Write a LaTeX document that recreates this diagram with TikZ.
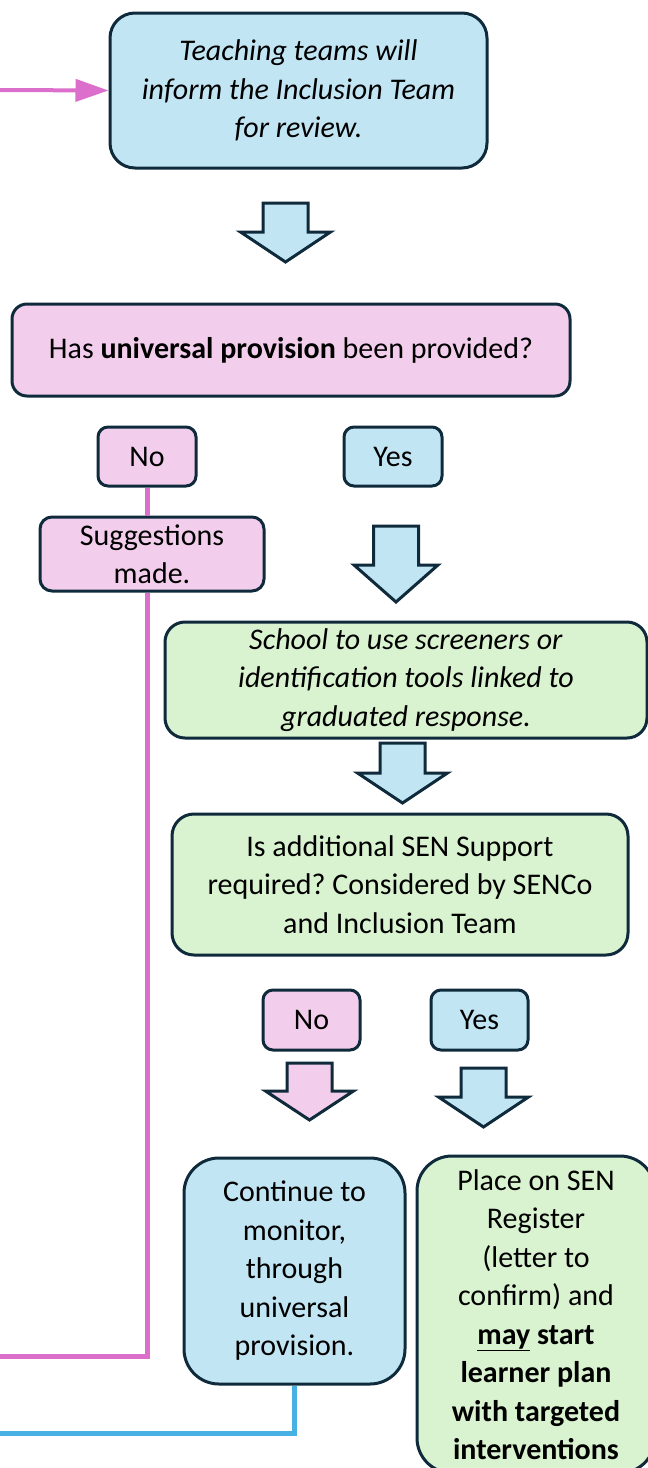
\documentclass[tikz,border=0pt]{standalone}
\usepackage{fontspec}
\setmainfont{Carlito}
\usetikzlibrary{arrows.meta}
\definecolor{navy}{HTML}{0E2A3B}
\definecolor{pinkfill}{HTML}{F2CEEC}
\definecolor{bluefill}{HTML}{C2E5F4}
\definecolor{greenfill}{HTML}{D9F2D0}
\definecolor{pinkline}{HTML}{DB6FCB}
\definecolor{blueline}{HTML}{47B1E3}
\tikzset{
  box/.style={draw=navy, line width=3pt, align=center, inner sep=0pt, text=black,
    font=\fontsize{30}{38.5}\selectfont},
  pinkconn/.style={draw=pinkline, line width=5pt},
  blueconn/.style={draw=blueline, line width=5pt},
  pics/barrow/.style n args={4}{code={
    \draw[fill=#1, draw=navy, line width=3pt, line join=miter]
      (-22.5,0) -- (22.5,0) -- (22.5,#2) -- (#4,#2) -- (0,#2+#3) -- (-#4,#2) -- (-22.5,#2) -- cycle;
  }}
}
\frenchspacing
\begin{document}
\begin{tikzpicture}[x=1pt,y=-1pt]
\clip (0,0) rectangle (648,1468);
\fill[white] (0,0) rectangle (648,1468);

\node[box, fill=bluefill, rounded corners=25pt, minimum width=377pt, minimum height=155pt] (top) at (298.5,90.5)
  {\textit{Teaching teams will}\\\textit{inform the Inclusion Team}\\\textit{for review.}};
\node[box, fill=pinkfill, rounded corners=15pt, minimum width=558pt, minimum height=92pt] (q) at (291,350)
  {Has \textbf{universal provision} been provided?};
\node[box, fill=pinkfill, rounded corners=10pt, minimum width=98pt, minimum height=59pt] (no1) at (147,456.5) {No};
\node[box, fill=bluefill, rounded corners=10pt, minimum width=98pt, minimum height=59pt] (yes1) at (393,456.5) {Yes};
\node[box, fill=pinkfill, rounded corners=12pt, minimum width=224pt, minimum height=74pt] (sug) at (152,554)
  {Suggestions\\made.};
\node[box, fill=greenfill, rounded corners=20pt, minimum width=482pt, minimum height=116pt] (school) at (406,680)
  {\textit{School to use screeners or}\\\textit{identification tools linked to}\\\textit{graduated response.}};
\node[box, fill=greenfill, rounded corners=22pt, minimum width=456pt, minimum height=141pt] (isadd) at (400,884.5)
  {Is additional SEN Support\\required? Considered by SENCo\\and Inclusion Team};
\node[box, fill=pinkfill, rounded corners=10pt, minimum width=97pt, minimum height=60pt] (no2) at (311.5,1020) {No};
\node[box, fill=bluefill, rounded corners=10pt, minimum width=97pt, minimum height=60pt] (yes2) at (479.5,1020) {Yes};
\node[box, fill=bluefill, rounded corners=35pt, minimum width=221pt, minimum height=226pt] (cont) at (294.5,1271)
  {Continue to\\monitor,\\through\\universal\\provision.};
\node[box, fill=greenfill, rounded corners=35pt, minimum width=238pt, minimum height=317pt] (place) at (536,1314.5)
  {Place on SEN\\Register\\(letter to\\confirm) and\\\textbf{\underline{may} start}\\\textbf{learner plan}\\\textbf{with targeted}\\\textbf{interventions}};

\pic at (285.5,203) {barrow={bluefill}{29}{30}{45}};
\pic at (396,526) {barrow={bluefill}{39}{37}{42}};
\pic at (402.5,743) {barrow={bluefill}{30}{30}{45}};
\pic at (309.5,1063) {barrow={pinkfill}{28}{29}{44}};
\pic at (483.5,1068) {barrow={bluefill}{29}{30}{45}};

\coordinate (pstart) at (0,90);
\coordinate (pend) at (0,1356);
\coordinate (bend) at (0,1433);
\draw[draw=pinkline, line width=4pt, -{Triangle[length=33pt,width=22pt]}] (pstart) -- (top.west);
\draw[pinkconn] (no1.south) -- (no1.south |- sug.north);
\draw[pinkconn] (no1.south |- sug.south) -- (no1.south |- pend) -- (pend);
\draw[blueconn] (cont.south) -- (cont.south |- bend) -- (bend);
\end{tikzpicture}
\end{document}
